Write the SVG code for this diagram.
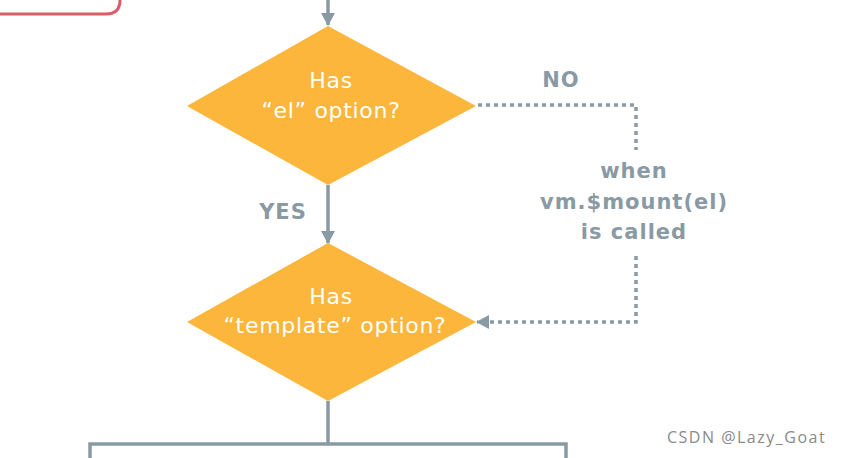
<svg xmlns="http://www.w3.org/2000/svg" width="844" height="458" viewBox="0 0 844 458">
<style>
.line{fill:none;stroke:#8a9aa4;stroke-width:3.5}
.dot{fill:none;stroke:#8a9aa4;stroke-width:3.5;stroke-dasharray:4 4}
.dia{fill:#fbb63b}
.nt{font-family:"DejaVu Sans","Liberation Sans",sans-serif;font-size:22px;fill:#ffffff;text-anchor:middle;letter-spacing:0.7px}
.lb{font-family:"DejaVu Sans","Liberation Sans",sans-serif;font-size:21px;font-weight:bold;fill:#8a9aa4;text-anchor:middle;letter-spacing:1px}
.wm{font-family:"Open Sans","Liberation Sans",sans-serif;font-size:16px;fill:#8a8a8a;letter-spacing:1.5px}
</style>
<defs>
<marker id="arr2" markerWidth="13" markerHeight="14" refX="12" refY="7" orient="auto" markerUnits="userSpaceOnUse" viewBox="0 0 13 14">
<path d="M0,0 L13,7 L0,14 Z" fill="#8a9aa4"/>
</marker>
</defs>
<rect width="844" height="458" fill="#ffffff"/>
<g id="start">
<path d="M-10,-30 L120,-30 L120,0 Q120,14 106,14 L-10,14" fill="none" stroke="#db5c63" stroke-width="3"/>
</g>
<g id="connectors">
<line class="line" x1="328" y1="0" x2="328" y2="25" marker-end="url(#arr2)"/>
<line class="line" x1="328" y1="185" x2="328" y2="243" marker-end="url(#arr2)"/>
<polyline class="dot" points="478,105 636,105 636,150"/>
<polyline class="dot" points="636,256 636,322 477,322" marker-end="url(#arr2)"/>
<line class="line" x1="328" y1="401" x2="328" y2="444"/>
<polyline class="line" points="90,460 90,444 566,444 566,460"/>
</g>
<g id="d1">
<polygon class="dia" points="328,26 476,106 328,185 187,106"/>
<text class="nt" x="331" y="88">Has</text>
<text class="nt" x="331" y="118">“el” option?</text>
</g>
<g id="d2">
<polygon class="dia" points="328,243 476,322 328,401 187,322"/>
<text class="nt" x="331" y="304">Has</text>
<text class="nt" x="335" y="333">“template” option?</text>
</g>
<g id="labels">
<text class="lb" x="561" y="87">NO</text>
<text class="lb" x="283" y="219">YES</text>
<text class="lb" x="634" y="178">when</text>
<text class="lb" x="634" y="209">vm.$mount(el)</text>
<text class="lb" x="634" y="239">is called</text>
</g>
<text class="wm" x="667" y="443">CSDN @Lazy_Goat</text>
</svg>
